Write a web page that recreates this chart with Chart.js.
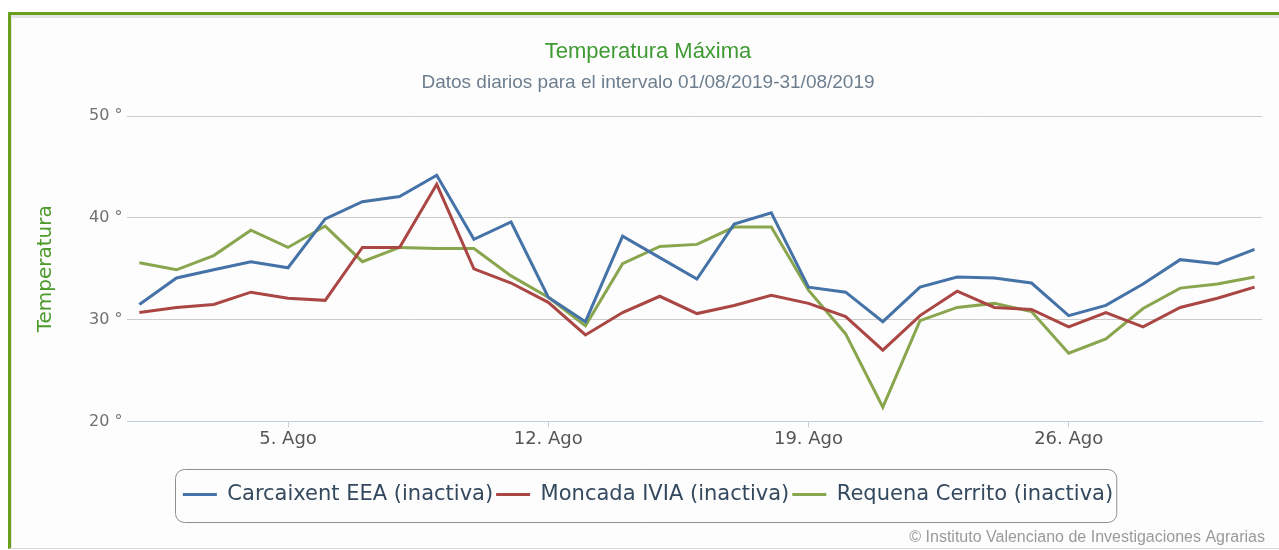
<!DOCTYPE html>
<html>
<head>
<meta charset="utf-8">
<title>Temperatura Máxima</title>
<script src="https://cdn.jsdelivr.net/npm/chart.js@4.4.0/dist/chart.umd.min.js"></script>
<style>
    html, body { margin: 0; padding: 0; background: #ffffff; }
    #frame {
        position: absolute; left: 8px; top: 12px; width: 1271px; height: 537px;
        box-sizing: border-box;
        border-top: 3px solid #6a9f1c; border-left: 3px solid #6a9f1c;
        border-bottom: 1px solid #d6d6d6;
        background: #fdfdfd;
        box-shadow: inset 1px 3px 0 #e4e4e4;
    }
    #wrap { position: absolute; left: 0; top: 0; width: 1279px; height: 550px; }
</style>
</head>
<body>
<div id="frame"></div>
<div id="wrap"><canvas id="tempChart"></canvas></div>
<script>
// Days of August 2019
const days = [1, 2, 3, 4, 5, 6, 7, 8, 9, 10, 11, 12, 13, 14, 15, 16,
              17, 18, 19, 20, 21, 22, 23, 24, 25, 26, 27, 28, 29, 30, 31];

// Daily maximum temperature per station
const carcaixent = [31.5, 34.1, 34.9, 35.7, 35.1, 39.9, 41.6, 42.1, 44.2, 37.9, 39.6, 32.2, 29.8, 38.2, 36.1, 34.0,
                    39.4, 40.5, 33.2, 32.7, 29.8, 33.2, 34.2, 34.1, 33.6, 30.4, 31.4, 33.5, 35.9, 35.5, 36.9];
const moncada = [30.7, 31.2, 31.5, 32.7, 32.1, 31.9, 37.1, 37.1, 43.3, 35.0, 33.6, 31.7, 28.5, 30.7, 32.3, 30.6,
                 31.4, 32.4, 31.6, 30.3, 27.0, 30.4, 32.8, 31.2, 31.0, 29.3, 30.7, 29.3, 31.2, 32.1, 33.2];
const requena = [35.6, 34.9, 36.3, 38.8, 37.1, 39.2, 35.7, 37.1, 37.0, 37.0, 34.3, 32.2, 29.4, 35.5, 37.2, 37.4,
                 39.1, 39.1, 32.9, 28.6, 21.4, 29.9, 31.2, 31.6, 30.8, 26.7, 28.1, 31.1, 33.1, 33.5, 34.2];

const seriesNames = ['Carcaixent EEA (inactiva)', 'Moncada IVIA (inactiva)', 'Requena Cerrito (inactiva)'];

// Axis ticks
const xTickDays = [5, 12, 19, 26];
const yTicks = [20, 30, 40, 50];

document.addEventListener('DOMContentLoaded', function() {
    const colors = ['#4572a7', '#aa4643', '#89a54e'];

    function toPoints(values) {
        return days.map(function(d, i) { return { x: d, y: values[i] }; });
    }

    // Rounded frame around the legend items
    const legendBox = {
        id: 'legendBox',
        afterDraw(chart) {
            const boxes = chart.legend.legendHitBoxes;
            if (!boxes || !boxes.length) return;
            const left = Math.min.apply(null, boxes.map(b => b.left)) - 8;
            const right = Math.max.apply(null, boxes.map(b => b.left + b.width)) + 3;
            const cy = boxes[0].top + boxes[0].height / 2;
            const ctx = chart.ctx;
            ctx.save();
            ctx.strokeStyle = '#8f8f8f';
            ctx.lineWidth = 1;
            ctx.beginPath();
            ctx.roundRect(Math.round(left) + 0.5, Math.round(cy - 26) + 0.5, right - left, 53, 9);
            ctx.stroke();
            ctx.restore();
        }
    };

    // Credits text, bottom right
    const credits = {
        id: 'credits',
        afterDraw(chart) {
            const ctx = chart.ctx;
            ctx.save();
            ctx.font = '16px "Liberation Sans", Arial, sans-serif';
            ctx.fillStyle = '#9a9a9a';
            ctx.textAlign = 'right';
            ctx.textBaseline = 'middle';
            ctx.fillText('© Instituto Valenciano de Investigaciones Agrarias', 1265, 538);
            ctx.restore();
        }
    };

    new Chart(document.getElementById('tempChart'), {
        type: 'line',
        data: {
            datasets: [{
                label: seriesNames[0],
                data: toPoints(carcaixent),
                borderColor: colors[0],
                backgroundColor: colors[0],
                borderWidth: 3
            }, {
                label: seriesNames[1],
                data: toPoints(moncada),
                borderColor: colors[1],
                backgroundColor: colors[1],
                borderWidth: 3
            }, {
                label: seriesNames[2],
                data: toPoints(requena),
                borderColor: colors[2],
                backgroundColor: colors[2],
                borderWidth: 3
            }]
        },
        options: {
            responsive: true,
            maintainAspectRatio: false,
            animation: false,
            elements: {
                line: { tension: 0 },
                point: { radius: 0 }
            },
            layout: {
                padding: { left: 34, right: 17, top: 0, bottom: 35 }
            },
            scales: {
                x: {
                    type: 'linear',
                    min: 0.68,
                    max: 31.2,
                    afterBuildTicks: function(scale) {
                        scale.ticks = xTickDays.map(v => ({ value: v }));
                    },
                    afterFit: function(scale) {
                        scale.height += 30;
                    },
                    ticks: {
                        color: '#555555',
                        font: { family: '"DejaVu Sans", sans-serif', size: 18 },
                        padding: 1,
                        maxRotation: 0,
                        callback: function(v) { return v + '. Ago'; }
                    },
                    grid: {
                        drawOnChartArea: false,
                        color: '#c0d0e0',
                        tickLength: 6
                    },
                    border: { color: '#c0d0e0', width: 1 }
                },
                y: {
                    min: 20,
                    max: 50,
                    afterBuildTicks: function(scale) {
                        scale.ticks = yTicks.map(v => ({ value: v }));
                    },
                    ticks: {
                        color: '#707070',
                        font: { family: '"DejaVu Sans", sans-serif', size: 16 },
                        padding: 5,
                        callback: function(v) { return v + ' °'; }
                    },
                    grid: {
                        color: '#cccccc',
                        drawTicks: false
                    },
                    border: { display: false },
                    title: {
                        display: true,
                        text: 'Temperatura',
                        color: '#4c9a2a',
                        font: { family: '"DejaVu Sans", sans-serif', size: 20 },
                        padding: { top: 0, bottom: 26 }
                    }
                }
            },
            plugins: {
                title: {
                    display: true,
                    text: 'Temperatura Máxima',
                    color: '#3f9a33',
                    font: { family: '"Liberation Sans", Arial, sans-serif', size: 22, weight: 'normal' },
                    padding: { top: 39, bottom: 6 }
                },
                subtitle: {
                    display: true,
                    text: 'Datos diarios para el intervalo 01/08/2019-31/08/2019',
                    color: '#6d7e8e',
                    font: { family: '"Liberation Sans", Arial, sans-serif', size: 19 },
                    padding: { bottom: 22 }
                },
                legend: {
                    position: 'bottom',
                    labels: {
                        usePointStyle: true,
                        pointStyle: 'line',
                        pointStyleWidth: 34,
                        color: '#34495e',
                        font: { family: '"DejaVu Sans", sans-serif', size: 21 },
                        padding: 3
                    }
                },
                tooltip: { enabled: false }
            }
        },
        plugins: [legendBox, credits]
    });
});
</script>
</body>
</html>
